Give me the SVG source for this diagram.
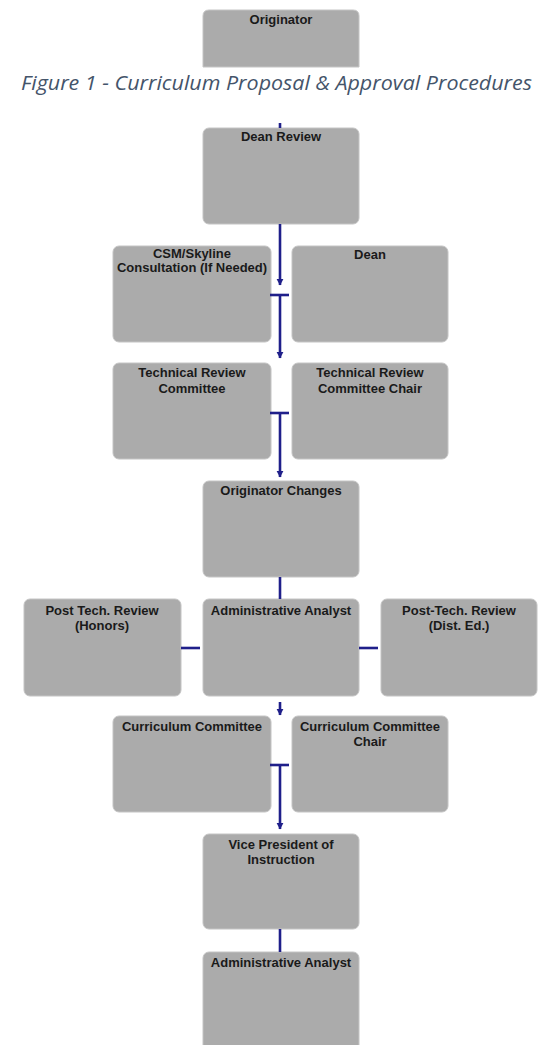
<svg xmlns="http://www.w3.org/2000/svg" width="538" height="1045" viewBox="0 0 538 1045">
<defs>
<marker id="ah" markerUnits="userSpaceOnUse" markerWidth="8" markerHeight="8" viewBox="0 0 8 8" refX="7" refY="4" orient="auto">
<path d="M1,0.6 L7.5,4 L1,7.4 Z" fill="#1f1f8a"/>
</marker>
</defs>
<style>
.box{fill:#ababab;stroke:#c4c4c4;stroke-width:1}
.lbl{font-family:"Liberation Sans",Arial,sans-serif;font-weight:bold;font-size:13px;fill:#1a1a1a;text-anchor:middle}
.cn{stroke:#1f1f8a;stroke-width:2.6;fill:none}
.cap{font-family:"Open Sans","DejaVu Sans",sans-serif;font-style:italic;font-size:20px;fill:#44546a}
</style>
<rect width="538" height="1045" fill="#ffffff"/>

<g id="originator">
<path class="box" d="M203,67 L203,16 Q203,10 209,10 L353,10 Q359,10 359,16 L359,67 Z"/>
<text class="lbl" x="281" y="24">Originator</text>
</g>

<text class="cap" x="21" y="90" textLength="511" lengthAdjust="spacingAndGlyphs">Figure 1 - Curriculum Proposal &amp; Approval Procedures</text>

<g id="dean-review">
<rect class="box" x="203" y="128" width="156" height="96" rx="6"/>
<text class="lbl" x="281" y="141">Dean Review</text>
</g>
<g id="csm-skyline">
<rect class="box" x="113" y="246" width="158" height="96" rx="6"/>
<text class="lbl" x="192" y="258">CSM/Skyline</text>
<text class="lbl" x="192" y="272">Consultation (If Needed)</text>
</g>
<g id="dean">
<rect class="box" x="292" y="246" width="156" height="96" rx="6"/>
<text class="lbl" x="370" y="259">Dean</text>
</g>
<g id="tech-review">
<rect class="box" x="113" y="363" width="158" height="96" rx="6"/>
<text class="lbl" x="192" y="377">Technical Review</text>
<text class="lbl" x="192" y="393">Committee</text>
</g>
<g id="tech-review-chair">
<rect class="box" x="292" y="363" width="156" height="96" rx="6"/>
<text class="lbl" x="370" y="377">Technical Review</text>
<text class="lbl" x="370" y="393">Committee Chair</text>
</g>
<g id="originator-changes">
<rect class="box" x="203" y="481" width="156" height="96" rx="6"/>
<text class="lbl" x="281" y="495">Originator Changes</text>
</g>
<g id="post-tech-honors">
<rect class="box" x="24" y="599" width="157" height="97" rx="6"/>
<text class="lbl" x="102" y="615">Post Tech. Review</text>
<text class="lbl" x="102" y="630">(Honors)</text>
</g>
<g id="admin-analyst-1">
<rect class="box" x="203" y="599" width="156" height="97" rx="6"/>
<text class="lbl" x="281" y="615">Administrative Analyst</text>
</g>
<g id="post-tech-disted">
<rect class="box" x="381" y="599" width="156" height="97" rx="6"/>
<text class="lbl" x="459" y="615">Post-Tech. Review</text>
<text class="lbl" x="459" y="630">(Dist. Ed.)</text>
</g>
<g id="curriculum-committee">
<rect class="box" x="113" y="716" width="158" height="96" rx="6"/>
<text class="lbl" x="192" y="731">Curriculum Committee</text>
</g>
<g id="curriculum-committee-chair">
<rect class="box" x="292" y="716" width="156" height="96" rx="6"/>
<text class="lbl" x="370" y="731">Curriculum Committee</text>
<text class="lbl" x="370" y="746">Chair</text>
</g>
<g id="vp-instruction">
<rect class="box" x="203" y="834" width="156" height="95" rx="6"/>
<text class="lbl" x="281" y="849">Vice President of</text>
<text class="lbl" x="281" y="864">Instruction</text>
</g>
<g id="admin-analyst-2">
<rect class="box" x="203" y="952" width="156" height="100" rx="6"/>
<text class="lbl" x="281" y="967">Administrative Analyst</text>
</g>

<g id="connectors">
<line class="cn" x1="280" y1="123" x2="280" y2="128"/>
<line class="cn" x1="280" y1="224" x2="280" y2="285" marker-end="url(#ah)"/>
<line class="cn" x1="270" y1="295" x2="289" y2="295"/>
<line class="cn" x1="280" y1="295" x2="280" y2="358" marker-end="url(#ah)"/>
<line class="cn" x1="270" y1="413" x2="289" y2="413"/>
<line class="cn" x1="280" y1="413" x2="280" y2="477" marker-end="url(#ah)"/>
<line class="cn" x1="280" y1="577" x2="280" y2="599"/>
<line class="cn" x1="181" y1="648" x2="200" y2="648"/>
<line class="cn" x1="359" y1="648" x2="378" y2="648"/>
<line class="cn" x1="280" y1="702" x2="280" y2="715" marker-end="url(#ah)"/>
<line class="cn" x1="270" y1="765" x2="289" y2="765"/>
<line class="cn" x1="280" y1="765" x2="280" y2="829" marker-end="url(#ah)"/>
<line class="cn" x1="280" y1="929" x2="280" y2="952"/>
</g>
</svg>
